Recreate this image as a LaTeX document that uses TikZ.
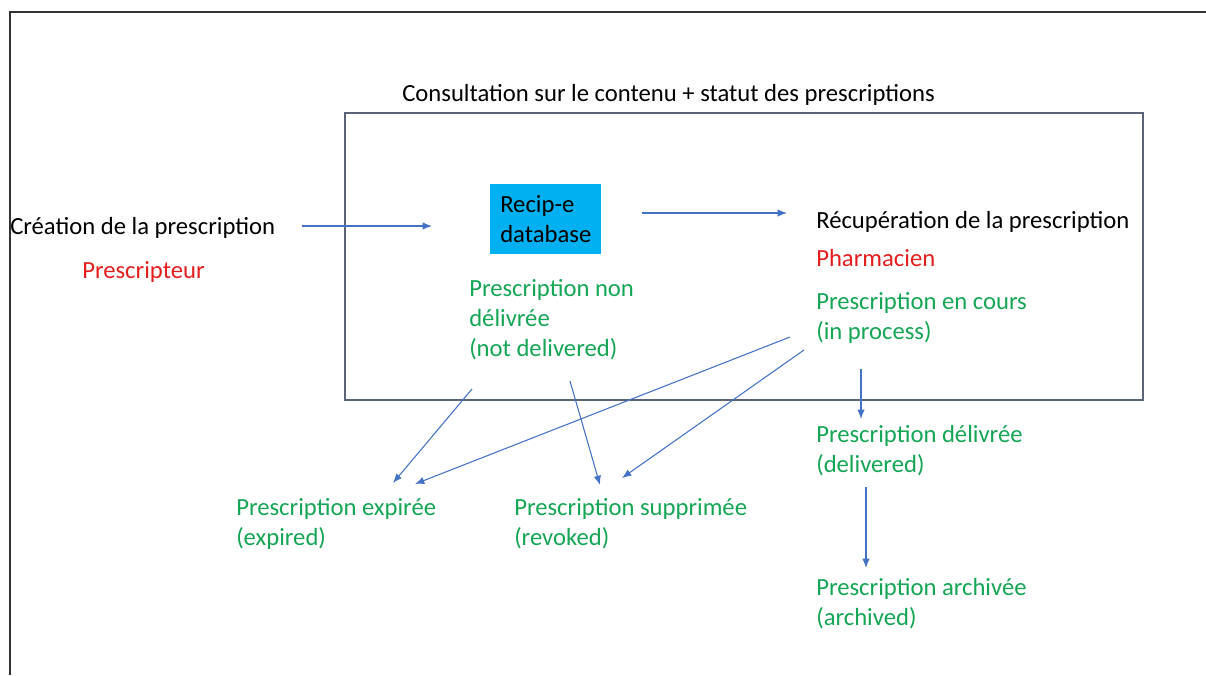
\documentclass[tikz,border=0pt]{standalone}
\usepackage{fontspec}
\setmainfont{Carlito}
\usetikzlibrary{arrows.meta}
\definecolor{arrowblue}{RGB}{68,114,196}
\definecolor{txtgreen}{RGB}{20,165,85}
\definecolor{txtred}{RGB}{228,30,30}
\definecolor{boxcyan}{RGB}{0,176,240}
\definecolor{framegray}{RGB}{90,100,118}
\tikzset{
  lbl/.style={inner sep=0pt, anchor=west, align=left, font=\fontsize{18.5}{22.5}\selectfont},
  greenlbl/.style={lbl, text=txtgreen},
  redlbl/.style={lbl, text=txtred},
  conn/.style={draw=arrowblue, line width=0.8pt, -{Latex[length=7pt,width=5.5pt]}},
}
\begin{document}
\begin{tikzpicture}[x=0.75pt,y=-0.75pt]
\path[use as bounding box] (0,0) rectangle (1206,675);
\draw[line width=1.5pt, black!80] (10,675) -- (10,12) -- (1206,12);
\node[lbl] (title) at (402,95) {Consultation sur le contenu + statut des prescriptions};
\node[draw=framegray, line width=1.2pt, minimum width=598.5pt, minimum height=215.25pt, anchor=north west, inner sep=0pt] (frame) at (344,112) {};
\node[lbl] (create) at (10,228) {Création de la prescription};
\node[redlbl] (prescr) at (82,272) {Prescripteur};
\node[fill=boxcyan, anchor=north west, minimum width=83.25pt, minimum height=52.5pt, text width=68.25pt, inner xsep=7.5pt, align=left, font=\fontsize{18.5}{22.5}\selectfont] (db) at (490,184) {Recip-e\\database};
\node[lbl] (recup) at (816,222) {Récupération de la prescription};
\node[redlbl] (pharma) at (816,258) {Pharmacien};
\node[greenlbl] (encours) at (816,318) {Prescription en cours\\(in process)};
\node[greenlbl] (nondel) at (469,320) {Prescription non\\délivrée\\(not delivered)};
\node[greenlbl] (expired) at (236,524) {Prescription expirée\\(expired)};
\node[greenlbl] (revoked) at (514,524) {Prescription supprimée\\(revoked)};
\node[greenlbl] (delivered) at (816,451) {Prescription délivrée\\(delivered)};
\node[greenlbl] (archived) at (816,604) {Prescription archivée\\(archived)};
\coordinate (a1s) at (302,226); \coordinate (a1e) at (432,226);
\coordinate (a2s) at (642,213); \coordinate (a2e) at (787,213);
\coordinate (a3s) at (472,389); \coordinate (a3e) at (393,483);
\coordinate (a4s) at (790,337); \coordinate (a4e) at (415,484);
\coordinate (a5s) at (570,381); \coordinate (a5e) at (600,485);
\coordinate (a6s) at (804,350); \coordinate (a6e) at (622,478);
\coordinate (a7s) at (861,369); \coordinate (a7e) at (861,419);
\coordinate (a8s) at (866,487); \coordinate (a8e) at (866,568);
\draw[conn] (a1s) -- (a1e);
\draw[conn] (a2s) -- (a2e);
\draw[conn] (a3s) -- (a3e);
\draw[conn] (a4s) -- (a4e);
\draw[conn] (a5s) -- (a5e);
\draw[conn] (a6s) -- (a6e);
\draw[conn] (a7s) -- (a7e);
\draw[conn] (a8s) -- (a8e);
\end{tikzpicture}
\end{document}
